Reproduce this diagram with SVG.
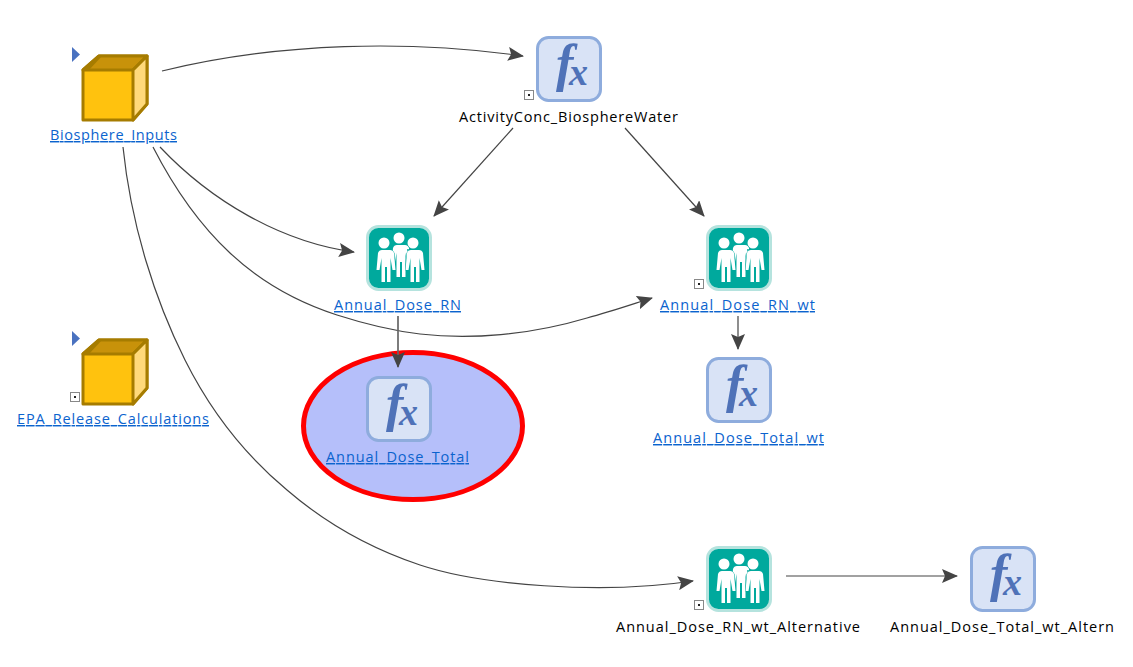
<svg xmlns="http://www.w3.org/2000/svg" width="1133" height="667" viewBox="0 0 1133 667">
<style>
text{font-family:"Open Sans","Noto Sans","Liberation Sans",sans-serif;font-size:14.5px;text-anchor:middle}
.lnk{fill:#0b63ce;text-decoration:underline;text-decoration-skip-ink:none}
.blk{fill:#000}
.c{fill:none;stroke:#444;stroke-width:1.2}
.s{fill:none;stroke:#666;stroke-width:1.7}
.fxt{font-family:"Liberation Serif","DejaVu Serif",serif;font-style:italic;font-weight:bold;fill:#4f72b8;text-anchor:start}
</style>
<defs>
<marker id="a" viewBox="0 0 16 14" refX="15" refY="7" markerWidth="16" markerHeight="14" markerUnits="userSpaceOnUse" orient="auto"><path d="M0 0L16 7L0 14L3 7Z" fill="#444"/></marker>
<g id="fx"><rect x="1.500" y="1.500" width="63" height="63" rx="11" fill="#d9e3f6" stroke="#8eacdd" stroke-width="3"/><text class="fxt" x="20" y="45" style="font-size:52px">f</text><text class="fxt" x="33" y="49" style="font-size:38px">x</text></g>
<g id="person"><circle cx="0" cy="18" r="5.500"/><path d="M-6 25h12q3 0 4 3l1.500 17h-3l-2-12v24h-3.500v-15h-2v15h-3.500v-24l-2 12h-3l1.500-17q1-3 4-3z"/></g>
<g id="ppl"><rect x="1.500" y="1.500" width="63" height="63" rx="11" fill="#00a99d" stroke="#b5e3de" stroke-width="3"/>
<g fill="#fff"><use href="#person" x="33" y="-5"/><use href="#person" x="18" stroke="#00a99d" stroke-width="1" paint-order="stroke"/><use href="#person" x="47" stroke="#00a99d" stroke-width="1" paint-order="stroke"/></g></g>
<g id="box"><path d="M2 16L18 2H66V50L52 66H2Z" fill="#ffc20e" stroke="#a67c00" stroke-width="3" stroke-linejoin="round"/><path d="M2 16L18 2H66L52 16Z" fill="#c8920a" stroke="#a67c00" stroke-width="3" stroke-linejoin="round"/><path d="M2 16L18 2H21L8 16Z" fill="#a67c00"/><path d="M52 16L66 2V50L52 66Z" fill="#ffd97a" stroke="#a67c00" stroke-width="3" stroke-linejoin="round"/></g>
<g id="tri"><path d="M0 0L8 7.500L0 15Z" fill="#4a72c0"/></g>
<g id="mini"><rect x="0.500" y="0.500" width="9" height="9" fill="#fff" stroke="#888"/><rect x="4" y="4" width="2" height="2" fill="#222"/></g>
</defs>
<rect width="1133" height="667" fill="#fff"/>
<g id="node-highlight"><ellipse cx="413" cy="426" rx="109.500" ry="73.500" fill="#b5bffa" stroke="#ff0000" stroke-width="5"/></g>
<g id="connectors">
<path class="c" d="M162 71C280 42 410 40 523 56" marker-end="url(#a)"/>
<path class="c" d="M513 128L434 216" marker-end="url(#a)"/>
<path class="c" d="M625 128L704 216" marker-end="url(#a)"/>
<path class="c" d="M160 147C210 200 280 242 354 252" marker-end="url(#a)"/>
<path class="c" d="M153 147C175 190 200 225 230 253C262 283 300 303 337 315C365 324 395 331 420 334C470 340 530 335 587 318C610 312 630 305 652 298" marker-end="url(#a)"/>
<path class="c" d="M123 147C131 225 155 300 185 360C210 410 245 455 287 490C330 527 375 550 420 565C480 585 600 595 693 581" marker-end="url(#a)"/>
<path class="s" d="M398 316V367" marker-end="url(#a)"/>
<path class="c" d="M738 316V349" marker-end="url(#a)"/>
<path class="c" d="M786 576H957" marker-end="url(#a)"/>
</g>
<g id="Biosphere_Inputs"><use href="#tri" x="72" y="47"/><use href="#box" x="81" y="54"/><text class="lnk" x="113.500" y="140" textLength="127">Biosphere_Inputs</text></g>
<g id="EPA_Release_Calculations"><use href="#tri" x="72" y="331"/><use href="#box" x="81" y="338"/><use href="#mini" x="70" y="392"/><text class="lnk" x="113" y="424" textLength="192">EPA_Release_Calculations</text></g>
<g id="ActivityConc_BiosphereWater"><use href="#fx" x="536" y="36"/><use href="#mini" x="524" y="90"/><text class="blk" x="568.500" y="122" textLength="219">ActivityConc_BiosphereWater</text></g>
<g id="Annual_Dose_RN"><use href="#ppl" x="366" y="225"/><text class="lnk" x="397.500" y="310" textLength="127">Annual_Dose_RN</text></g>
<g id="Annual_Dose_RN_wt"><use href="#ppl" x="706" y="225"/><use href="#mini" x="694" y="279"/><text class="lnk" x="737.500" y="310" textLength="155">Annual_Dose_RN_wt</text></g>
<g id="Annual_Dose_Total"><use href="#fx" x="366" y="376"/><text class="lnk" x="397.500" y="462" textLength="143">Annual_Dose_Total</text></g>
<g id="Annual_Dose_Total_wt"><use href="#fx" x="706" y="357"/><text class="lnk" x="738.500" y="443" textLength="171">Annual_Dose_Total_wt</text></g>
<g id="Annual_Dose_RN_wt_Alternative"><use href="#ppl" x="706" y="546"/><use href="#mini" x="694" y="600"/><text class="blk" x="738" y="632" textLength="244">Annual_Dose_RN_wt_Alternative</text></g>
<g id="Annual_Dose_Total_wt_Altern"><use href="#fx" x="970" y="546"/><text class="blk" x="1002" y="632" textLength="224">Annual_Dose_Total_wt_Altern</text></g>
</svg>
